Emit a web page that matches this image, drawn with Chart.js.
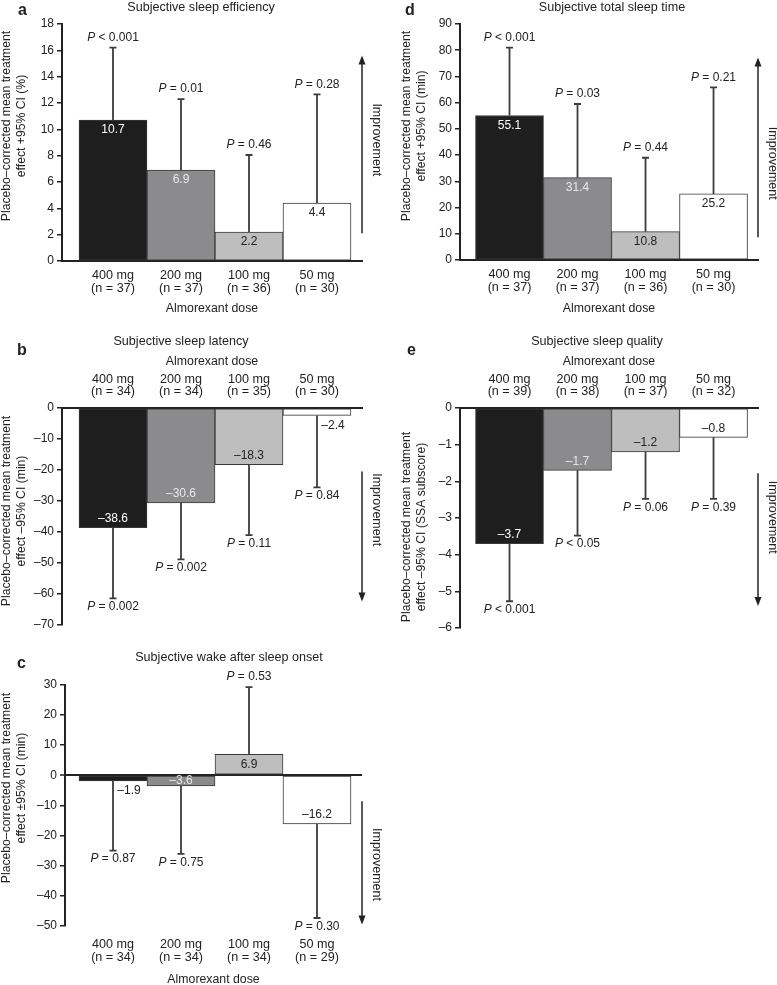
<!DOCTYPE html>
<html>
<head>
<meta charset="utf-8">
<script src="https://cdn.jsdelivr.net/npm/chart.js@4.4.1/dist/chart.umd.min.js"></script>
<style>
html,body{margin:0;padding:0;background:#fff;}
#wrap{position:relative;width:777px;height:985px;overflow:hidden;background:#fff;}
canvas{position:absolute;}
</style>
</head>
<body>
<div id="wrap">
<canvas id="ca"></canvas>
<canvas id="cd"></canvas>
<canvas id="cb"></canvas>
<canvas id="ce"></canvas>
<canvas id="cc"></canvas>
</div>
<script>
// ---------------- DATA ----------------
const doses = ['400 mg', '200 mg', '100 mg', '50 mg'];

// a: Subjective sleep efficiency (%)
const nA = [37, 37, 36, 30];
const effA = [10.7, 6.9, 2.2, 4.4];
const ciA = [16.2, 12.3, 8.05, 12.65];
const pA = ['< 0.001', '= 0.01', '= 0.46', '= 0.28'];

// d: Subjective total sleep time (min)
const nD = [37, 37, 36, 30];
const effD = [55.1, 31.4, 10.8, 25.2];
const ciD = [81.0, 59.5, 39.0, 65.8];
const pD = ['< 0.001', '= 0.03', '= 0.44', '= 0.21'];

// b: Subjective sleep latency (min)
const nB = [34, 34, 35, 30];
const effB = [-38.6, -30.6, -18.3, -2.4];
const ciB = [-61.4, -48.8, -41.0, -25.6];
const pB = ['= 0.002', '= 0.002', '= 0.11', '= 0.84'];

// e: Subjective sleep quality (SSA subscore)
const nE = [39, 38, 37, 32];
const effE = [-3.7, -1.7, -1.2, -0.8];
const ciE = [-5.27, -3.48, -2.48, -2.48];
const pE = ['< 0.001', '< 0.05', '= 0.06', '= 0.39'];

// c: Subjective wake after sleep onset (min)
const nC = [34, 34, 34, 29];
const effC = [-1.9, -3.6, 6.9, -16.2];
const ciC = [-25.1, -26.2, 29.3, -47.5];
const pC = ['= 0.87', '= 0.75', '= 0.53', '= 0.30'];

// ---------------- STYLE ----------------
const FONT = "'Liberation Sans', Arial, Helvetica, sans-serif";
const INK = '#222';
const BAR_COLORS = ['#1e1e1e', '#8b8b8d', '#bebebe', '#ffffff'];
const LABEL_COLORS = ['#ffffff', '#e8e8e8', '#222222', '#222222'];
Chart.defaults.font.family = FONT;
Chart.defaults.color = INK;

function fmtTick(v) { return v < 0 ? '\u2013' + Math.abs(v) : String(v); }
function fmtVal(v) { return v < 0 ? '\u2013' + Math.abs(v).toFixed(1) : v.toFixed(1); }

function drawP(ctx, rest, cx, cy) {
  const fI = 'italic 12px ' + FONT, fN = '12px ' + FONT;
  ctx.font = fI; const wP = ctx.measureText('P').width;
  const r = ' ' + rest;
  ctx.font = fN; const wR = ctx.measureText(r).width;
  const x0 = cx - (wP + wR) / 2;
  ctx.fillStyle = INK; ctx.textAlign = 'left'; ctx.textBaseline = 'middle';
  ctx.font = fI; ctx.fillText('P', x0, cy);
  ctx.font = fN; ctx.fillText(r, x0 + wP, cy);
}

const panels = [
  { id: 'a', ox: 0, oy: 0, w: 390, h: 330, area: { l: 62, r: 362, t: 24, b: 261 },
    xMin: -0.75, xMax: 3.662, yMin: 0, yMax: 18, yStep: 2, xPos: 'bottom', zero: false,
    vals: effA, ci: ciA, p: pA, n: nA, modes: ['in', 'in', 'in', 'in'], tickPad: 8.5,
    xTitle: { lh: '14px', pad: 14 },
    title: { text: 'Subjective sleep efficiency', x: 201, y: 7.5 }, letter: { text: 'a', x: 18, y: 15 },
    yTitle: { lines: ['Placebo\u2013corrected mean treatment', 'effect +95% CI (%)'], x: 7, y: 126 },
    arrow: [2.1, 15.6], imp: 9.2 },
  { id: 'd', ox: 390, oy: 0, w: 387, h: 330, area: { l: 460, r: 758, t: 24, b: 260 },
    xMin: -0.728, xMax: 3.654, yMin: 0, yMax: 90, yStep: 10, xPos: 'bottom', zero: false,
    vals: effD, ci: ciD, p: pD, n: nD, modes: ['in', 'in', 'in', 'in'], tickPad: 8.5,
    xTitle: { lh: '14px', pad: 14 },
    title: { text: 'Subjective total sleep time', x: 612, y: 7.5 }, letter: { text: 'd', x: 405, y: 15 },
    yTitle: { lines: ['Placebo\u2013corrected mean treatment', 'effect +95% CI (min)'], x: 407, y: 126 },
    arrow: [8.7, 77.2], imp: 36.9 },
  { id: 'b', ox: 0, oy: 330, w: 390, h: 310, area: { l: 62, r: 362, t: 408, b: 625 },
    xMin: -0.75, xMax: 3.662, yMin: -70, yMax: 0, yStep: 10, xPos: 'top', zero: false,
    vals: effB, ci: ciB, p: pB, n: nB, modes: ['in', 'in', 'in', 'out'], tickPad: 10,
    xTitle: { lh: '14px', pad: 24.7 },
    title: { text: 'Subjective sleep latency', x: 181, y: 342 }, letter: { text: 'b', x: 17, y: 355 },
    yTitle: { lines: ['Placebo\u2013corrected mean treatment', 'effect \u201395% CI (min)'], x: 7, y: 511 },
    arrow: [-20.5, -62.4], imp: -32.8 },
  { id: 'e', ox: 390, oy: 330, w: 387, h: 310, area: { l: 460, r: 758, t: 408, b: 628 },
    xMin: -0.728, xMax: 3.654, yMin: -6, yMax: 0, yStep: 1, xPos: 'top', zero: false,
    vals: effE, ci: ciE, p: pE, n: nE, modes: ['in', 'in', 'in', 'in'], tickPad: 10,
    xTitle: { lh: '14px', pad: 24.7 },
    title: { text: 'Subjective sleep quality', x: 597, y: 342 }, letter: { text: 'e', x: 407, y: 355 },
    yTitle: { lines: ['Placebo\u2013corrected mean treatment', 'effect \u201395% CI (SSA subscore)'], x: 407, y: 527 },
    arrow: [-1.78, -5.4], imp: -2.98 },
  { id: 'c', ox: 0, oy: 640, w: 390, h: 345, area: { l: 65, r: 362, t: 685, b: 925.5 },
    xMin: -0.706, xMax: 3.662, yMin: -50, yMax: 30, yStep: 10, xPos: 'bottom', zero: true,
    vals: effC, ci: ciC, p: pC, n: nC, modes: ['out', 'in', 'in', 'in'], tickPad: 13,
    xTitle: { lh: '10px', pad: 0 },
    title: { text: 'Subjective wake after sleep onset', x: 229, y: 658 }, letter: { text: 'c', x: 17, y: 668 },
    yTitle: { lines: ['Placebo\u2013corrected mean treatment', 'effect \u00b195% CI (min)'], x: 7, y: 788 },
    arrow: [-8.7, -49.7], imp: -29.7 }
];

function buildPanel(P) {
  const cv = document.getElementById('c' + P.id);
  cv.width = P.w; cv.height = P.h;
  cv.style.left = P.ox + 'px'; cv.style.top = P.oy + 'px';
  cv.style.width = P.w + 'px'; cv.style.height = P.h + 'px';
  const L = P.area.l - P.ox, R = P.area.r - P.ox, T = P.area.t - P.oy, B = P.area.b - P.oy;
  const isTop = P.xPos === 'top';
  const xH = isTop ? T : P.h - B;
  const pad = { left: 0, right: P.w - R, top: isTop ? 0 : T, bottom: isTop ? P.h - B : 0 };

  const annot = {
    id: 'annot' + P.id,
    afterDatasetsDraw(chart) {
      const ctx = chart.ctx, ys = chart.scales.y, meta = chart.getDatasetMeta(0);
      ctx.save();
      meta.data.forEach((bar, i) => {
        const x = bar.x;
        const yv = ys.getPixelForValue(P.vals[i]);
        const yc = ys.getPixelForValue(P.ci[i]);
        // error bar
        ctx.strokeStyle = '#3c3c3c'; ctx.lineWidth = 1.8;
        ctx.beginPath();
        ctx.moveTo(x, yv); ctx.lineTo(x, yc);
        ctx.moveTo(x - 3.5, yc); ctx.lineTo(x + 3.5, yc);
        ctx.stroke();
        // value label
        const up = P.vals[i] >= 0;
        const h = Math.abs(ys.getPixelForValue(0) - yv);
        let lx = x, ly, col;
        if (P.modes[i] === 'out') {
          lx = x + 16; ly = yv + (up ? -10 : 10); col = INK;
        } else {
          const off = Math.min(up ? 10 : 9, h / 2);
          ly = up ? yv + off : yv - off; col = LABEL_COLORS[i];
        }
        ctx.font = '12px ' + FONT; ctx.fillStyle = col;
        ctx.textAlign = 'center'; ctx.textBaseline = 'middle';
        ctx.fillText(fmtVal(P.vals[i]), lx, ly);
        // P label
        const above = P.ci[i] > P.vals[i];
        drawP(ctx, P.p[i], x, above ? yc - 10 : yc + 8.5);
      });
      ctx.restore();
    },
    afterDraw(chart) {
      const ctx = chart.ctx, ys = chart.scales.y;
      ctx.save();
      ctx.fillStyle = INK; ctx.textBaseline = 'middle'; ctx.textAlign = 'center';
      // panel title
      ctx.font = '12.6px ' + FONT;
      ctx.fillText(P.title.text, P.title.x - P.ox, P.title.y - P.oy);
      // panel letter
      ctx.font = 'bold 16px ' + FONT; ctx.textAlign = 'left'; ctx.textBaseline = 'alphabetic';
      ctx.fillText(P.letter.text, P.letter.x - P.ox, P.letter.y - P.oy);
      // y title
      ctx.save();
      ctx.font = '12.2px ' + FONT; ctx.textAlign = 'center'; ctx.textBaseline = 'middle';
      ctx.translate(P.yTitle.x - P.ox, P.yTitle.y - P.oy);
      ctx.rotate(-Math.PI / 2);
      P.yTitle.lines.forEach((t, k) => ctx.fillText(t, 0, k * 15));
      ctx.restore();
      // improvement arrow
      const ax = chart.chartArea.right;
      const yT = ys.getPixelForValue(P.arrow[0]), yHd = ys.getPixelForValue(P.arrow[1]);
      const dir = yHd < yT ? -1 : 1;
      ctx.strokeStyle = INK; ctx.lineWidth = 1.5;
      ctx.beginPath(); ctx.moveTo(ax, yT); ctx.lineTo(ax, yHd - dir * 7); ctx.stroke();
      ctx.beginPath();
      ctx.moveTo(ax, yHd); ctx.lineTo(ax - 3.5, yHd - dir * 9); ctx.lineTo(ax + 3.5, yHd - dir * 9);
      ctx.closePath(); ctx.fill();
      // improvement text
      ctx.save();
      ctx.font = '12.5px ' + FONT; ctx.textAlign = 'center'; ctx.textBaseline = 'middle';
      ctx.translate(ax + 14, ys.getPixelForValue(P.imp));
      ctx.rotate(Math.PI / 2);
      ctx.fillText('Improvement', 0, 0);
      ctx.restore();
      ctx.restore();
    }
  };

  return new Chart(cv, {
    type: 'bar',
    data: {
      datasets: [{
        data: P.vals.map((v, i) => ({ x: i, y: v })),
        backgroundColor: BAR_COLORS,
        borderColor: '#3a3a3a',
        borderWidth: 1,
        borderSkipped: false,
        barPercentage: 1,
        categoryPercentage: 1
      }]
    },
    options: {
      responsive: false,
      animation: false,
      devicePixelRatio: 1,
      layout: { padding: pad },
      plugins: { legend: { display: false }, tooltip: { enabled: false }, title: { display: false } },
      scales: {
        x: {
          type: 'linear', position: P.xPos, min: P.xMin, max: P.xMax, offset: false,
          afterBuildTicks: s => { s.ticks = doses.map((d, i) => ({ value: i })); },
          afterFit: s => { s.height = xH; },
          ticks: {
            autoSkip: false, maxRotation: 0, minRotation: 0, padding: P.tickPad, color: INK,
            font: { family: FONT, size: 12.6, lineHeight: '12.5px' },
            callback: v => [doses[v], '(n = ' + P.n[v] + ')']
          },
          grid: { display: false, drawTicks: false },
          border: { display: !P.zero, color: INK, width: 2 },
          title: {
            display: true, text: 'Almorexant dose', color: INK,
            font: { family: FONT, size: 12.3, lineHeight: P.xTitle.lh },
            padding: isTop ? { top: P.xTitle.pad, bottom: 0 } : { top: 0, bottom: P.xTitle.pad }
          }
        },
        y: {
          min: P.yMin, max: P.yMax,
          afterFit: s => { s.width = L; },
          ticks: { stepSize: P.yStep, autoSkip: false, padding: 3, color: INK,
                   font: { family: FONT, size: 12 }, callback: v => fmtTick(v) },
          grid: {
            display: true,
            drawOnChartArea: P.zero,
            drawTicks: true, tickLength: 5,
            color: c => (P.zero && c.tick && c.tick.value === 0) ? INK : (P.zero ? 'rgba(0,0,0,0)' : INK),
            lineWidth: c => (P.zero && c.tick && c.tick.value === 0) ? 2 : 1.5,
            tickColor: INK, tickWidth: 1.5
          },
          border: { display: true, color: INK, width: 2 }
        }
      }
    },
    plugins: [annot]
  });
}

panels.forEach(buildPanel);
</script>
</body>
</html>
